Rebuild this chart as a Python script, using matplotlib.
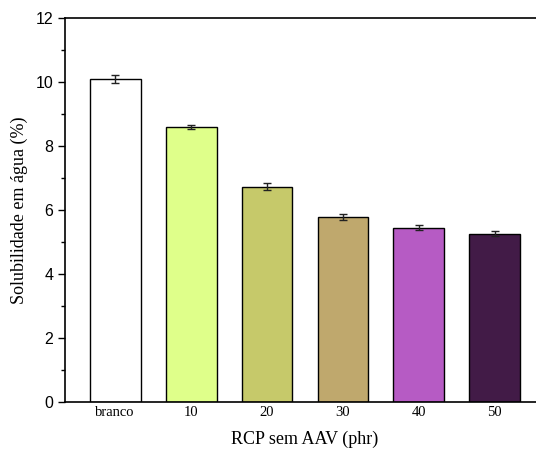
import numpy as np
import matplotlib
matplotlib.use('Agg')
from matplotlib import pyplot as plt
from matplotlib.ticker import MultipleLocator

# Solubilidade em água das amostras
categorias = ['branco', '10', '20', '30', '40', '50']
solubilidade = [10.10, 8.59, 6.73, 5.79, 5.44, 5.26]
erro = [0.12, 0.06, 0.10, 0.09, 0.08, 0.07]
cores = ['#ffffff', '#dfff8a', '#c6c96a', '#bfa86d', '#b65bc4', '#421b47']

fig = plt.figure(figsize=(5.36, 4.55), dpi=100)
ax = fig.add_axes([65 / 536, 53 / 455, 480 / 536, 384 / 455])

x = np.arange(len(categorias))
ax.bar(x, solubilidade, width=0.67, color=cores, edgecolor='black', linewidth=1.0,
       yerr=erro, capsize=3, error_kw={'elinewidth': 1.0, 'capthick': 1.0, 'ecolor': '#222222'})

ax.set_xlim(-0.66, 5.66)
ax.set_ylim(0, 12)
ax.yaxis.set_major_locator(MultipleLocator(2))
ax.yaxis.set_minor_locator(MultipleLocator(1))
ax.tick_params(axis='y', which='major', direction='out', length=5, width=1, labelsize=11.5)
ax.tick_params(axis='y', which='minor', direction='out', length=3, width=1)
ax.tick_params(axis='x', length=0, pad=3)

ax.set_xticks(x)
ax.set_xticklabels(categorias, family='Liberation Serif', fontsize=10.5)
for lbl in ax.get_yticklabels():
    lbl.set_family('Liberation Sans')

for s in ax.spines.values():
    s.set_linewidth(1.2)

ax.set_xlabel('RCP sem AAV (phr)', family='Liberation Serif', fontsize=13, labelpad=8)
ax.set_ylabel('Solubilidade em água (%)', family='Liberation Serif', fontsize=13, labelpad=5)

plt.savefig('out.png', dpi=100)
